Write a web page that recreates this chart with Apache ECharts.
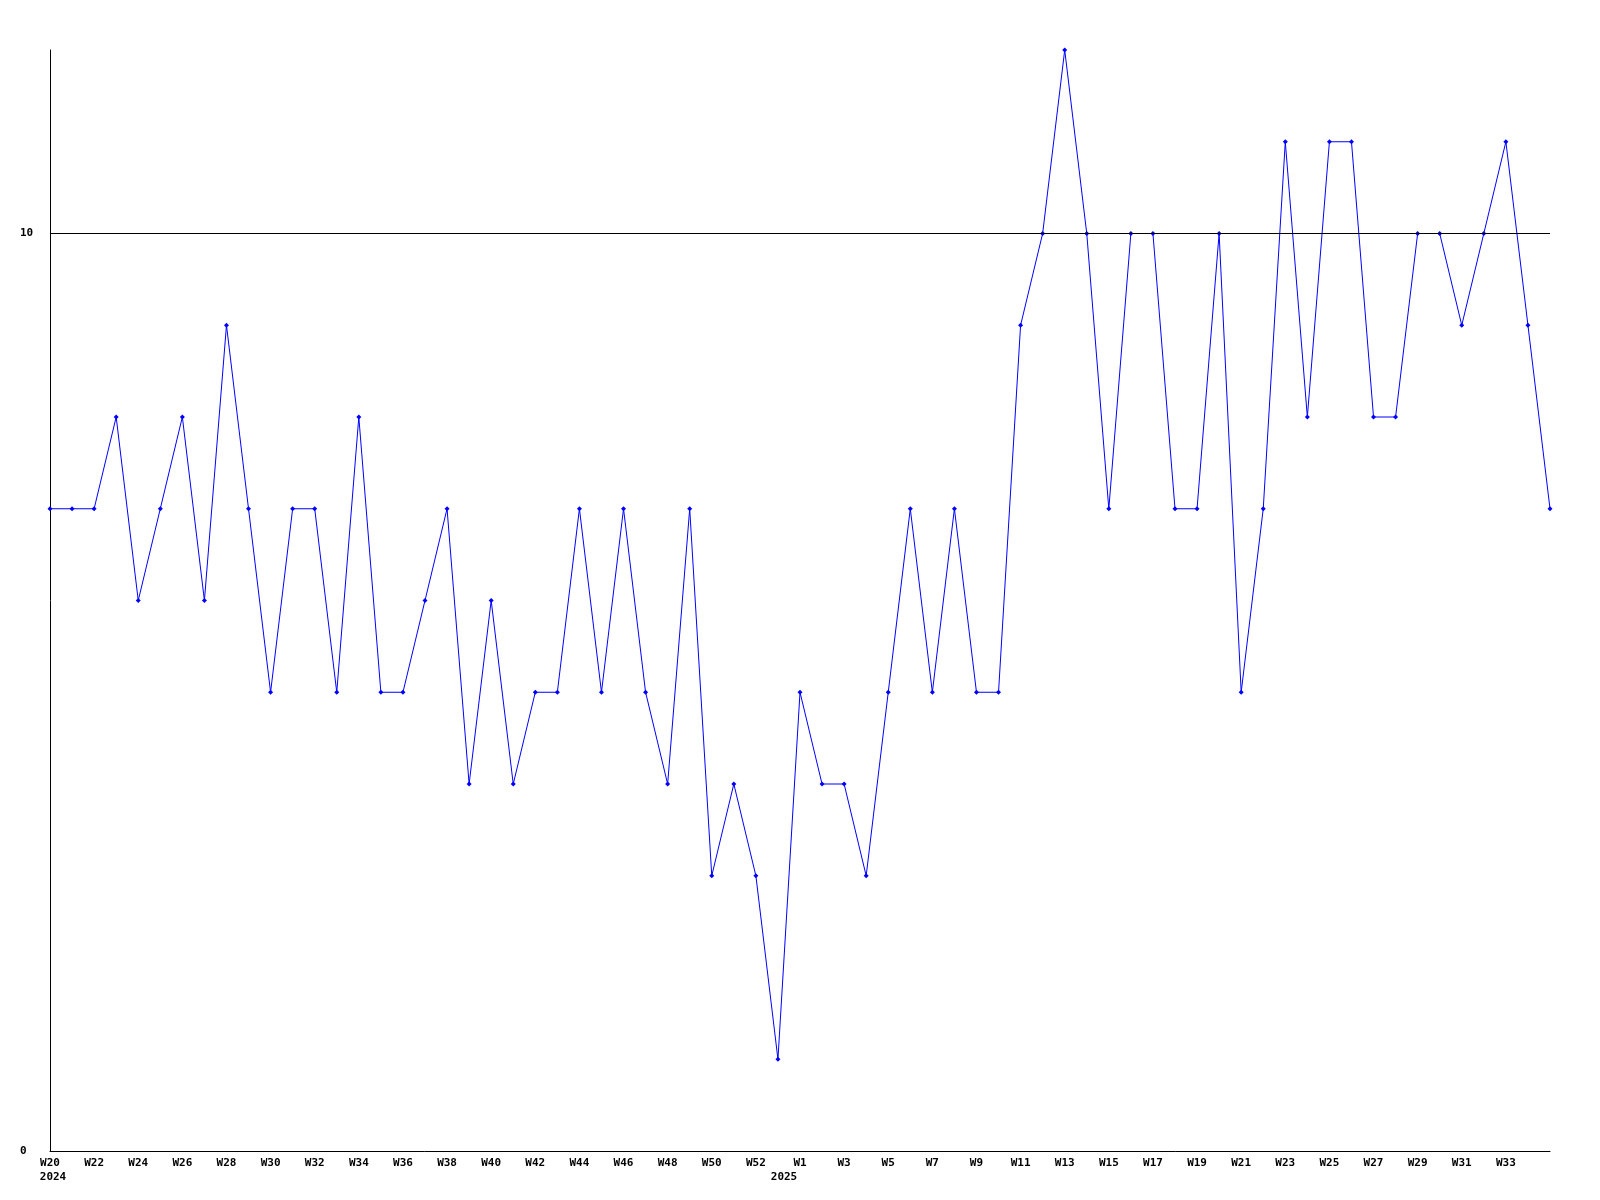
<!DOCTYPE html>
<html><head><meta charset="utf-8">
<script src="https://cdn.jsdelivr.net/npm/echarts@6/dist/echarts.min.js"></script>
<style>html,body{margin:0;padding:0;background:#fff}#c{width:1600px;height:1200px}</style>
</head><body><div id="c"></div>
<script>
const weeks = ["W20","W21","W22","W23","W24","W25","W26","W27","W28","W29","W30","W31","W32","W33","W34","W35","W36","W37","W38","W39","W40","W41","W42","W43","W44","W45","W46","W47","W48","W49","W50","W51","W52","W53",
"W1","W2","W3","W4","W5","W6","W7","W8","W9","W10","W11","W12","W13","W14","W15","W16","W17","W18","W19","W20","W21","W22","W23","W24","W25","W26","W27","W28","W29","W30","W31","W32","W33","W34","W35"];
const yearLabels = {0:"2024", 34:"2025"};
const values = [7,7,7,8,6,7,8,6,9,7,5,7,7,5,8,5,5,6,7,4,6,4,5,5,7,5,7,5,4,7,3,4,3,1,
5,4,4,3,5,7,5,7,5,5,9,10,12,10,7,10,10,7,7,10,5,7,11,8,11,11,8,8,10,10,9,10,11,9,7];
const refLine = 10;

const font = '"DejaVu Sans Mono", monospace';
const chart = echarts.init(document.getElementById('c'));
chart.setOption({
  animation:false,
  backgroundColor:'#fff',
  grid:{left:50,right:50,top:50,bottom:49},
  xAxis:{type:'category',data:weeks.map((w,i)=>i),boundaryGap:false,
    axisLine:{lineStyle:{color:'#000',width:1}},axisTick:{show:false},
    axisLabel:{interval:(i)=>i%2===0 && i<weeks.length-2,margin:5,color:'#000',
      formatter:(v)=>{const i=+v; const y=yearLabels[i]; return y? '{w|'+weeks[i]+'}\n{'+(i===0?'a':'b')+'|'+y+'}' : '{w|'+weeks[i]+'}';},
      rich:{w:{fontFamily:font,fontWeight:'bold',fontSize:11,lineHeight:14,color:'#000'},
            a:{fontFamily:font,fontWeight:'bold',fontSize:11,lineHeight:14,color:'#000',padding:[0,0,0,6]},
            b:{fontFamily:font,fontWeight:'bold',fontSize:11,lineHeight:14,color:'#000',padding:[0,32,0,0]}}},
    splitLine:{show:false}},
  yAxis:{type:'value',min:0,max:12,interval:10,
    axisLine:{show:true,lineStyle:{color:'#000',width:1}},axisTick:{show:false},
    splitLine:{show:false},
    axisLabel:{showMaxLabel:false,align:'left',margin:30,color:'#000',fontFamily:font,fontWeight:'bold',fontSize:11}},
  series:[{type:'line',data:values,symbol:'diamond',symbolSize:5,showSymbol:true,
    lineStyle:{color:'#0000ff',width:1},itemStyle:{color:'#0000ff'},
    markLine:{silent:true,symbol:['none','none'],label:{show:false},
      lineStyle:{color:'#000',width:1,type:'solid'},data:[{yAxis:refLine}]}}]
});
</script></body></html>
